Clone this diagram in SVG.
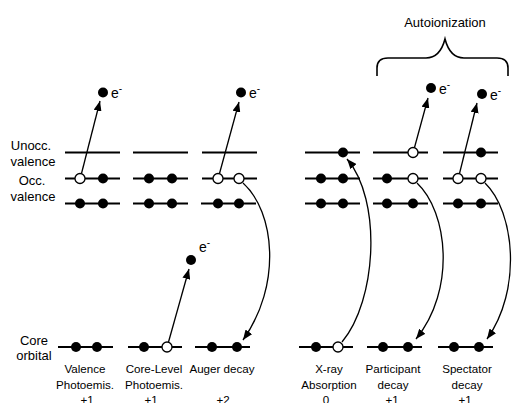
<svg xmlns="http://www.w3.org/2000/svg" width="512" height="403" viewBox="0 0 512 403">
<defs>
<style>
.lv{stroke:#000;stroke-width:2;fill:none}
.f{fill:#000}
.h{fill:#fff;stroke:#000;stroke-width:1.3}
.ar{stroke:#000;stroke-width:1.3;fill:none;marker-end:url(#ah)}
.t{font-family:"Liberation Sans",Arial,sans-serif;font-size:13px;fill:#000;text-anchor:middle}
.b{font-family:"Liberation Sans",Arial,sans-serif;font-size:11.6px;fill:#000;text-anchor:middle}
.e{font-family:"Liberation Sans",Arial,sans-serif;font-size:14px;fill:#000}
</style>
<marker id="ah" viewBox="0 0 10 8" refX="10" refY="4" markerWidth="10" markerHeight="8" markerUnits="userSpaceOnUse" orient="auto">
<path d="M0,0 L10,4 L0,8 Z" fill="#000"/>
</marker>
</defs>
<rect width="512" height="403" fill="#fff"/>

<g id="labels-left">
<text class="t" x="31" y="150">Unocc.</text>
<text class="t" x="33" y="166">valence</text>
<text class="t" x="32" y="185">Occ.</text>
<text class="t" x="33" y="201">valence</text>
<text class="t" x="34" y="345">Core</text>
<text class="t" x="34" y="360">orbital</text>
</g>

<g id="autoionization">
<text class="t" x="445" y="27">Autoionization</text>
<path d="M377,76 L377,68 Q377,58 388,58 L426,58 Q440,58 445,39 Q450,58 464,58 L497,58 Q508,58 508,68 L508,76" stroke="#000" stroke-width="1.6" fill="none"/>
</g>

<g id="valence-photoemission">
<line class="lv" x1="65" y1="152.5" x2="120" y2="152.5"/>
<line class="lv" x1="65" y1="178.5" x2="120" y2="178.5"/>
<line class="lv" x1="65" y1="203.5" x2="120" y2="203.5"/>
<circle class="h" cx="80" cy="178.5" r="5"/><circle class="f" cx="103" cy="178.5" r="5"/>
<circle class="f" cx="80" cy="203.5" r="5"/><circle class="f" cx="103" cy="203.5" r="5"/>
<line class="lv" x1="58" y1="347" x2="113" y2="347"/>
<circle class="f" cx="76" cy="347" r="5"/><circle class="f" cx="97" cy="347" r="5"/>
<circle class="f" cx="103" cy="92.5" r="5"/>
<text class="e" x="111" y="98">e<tspan dy="-6" font-size="10">-</tspan></text>
<text class="b" x="85" y="373">Valence</text>
<text class="b" x="85" y="389">Photoemis.</text>
<text class="b" x="87" y="404">+1</text>
</g>

<g id="core-level-photoemission">
<line class="lv" x1="133" y1="152.5" x2="188" y2="152.5"/>
<line class="lv" x1="133" y1="178.5" x2="188" y2="178.5"/>
<line class="lv" x1="133" y1="203.5" x2="188" y2="203.5"/>
<circle class="f" cx="149" cy="178.5" r="5"/><circle class="f" cx="172" cy="178.5" r="5"/>
<circle class="f" cx="149" cy="203.5" r="5"/><circle class="f" cx="172" cy="203.5" r="5"/>
<line class="lv" x1="128" y1="347" x2="182" y2="347"/>
<circle class="f" cx="144" cy="347" r="5"/><circle class="h" cx="167" cy="347" r="5"/>
<circle class="f" cx="191" cy="260" r="5"/>
<text class="e" x="199" y="252">e<tspan dy="-6" font-size="10">-</tspan></text>
<text class="b" x="154" y="373">Core-Level</text>
<text class="b" x="154" y="389">Photoemis.</text>
<text class="b" x="151" y="404">+1</text>
</g>

<g id="auger-decay">
<line class="lv" x1="202" y1="152.5" x2="257" y2="152.5"/>
<line class="lv" x1="202" y1="178.5" x2="257" y2="178.5"/>
<line class="lv" x1="201" y1="203.5" x2="256" y2="203.5"/>
<circle class="h" cx="218" cy="178.5" r="5"/><circle class="h" cx="239" cy="178.5" r="5"/>
<circle class="f" cx="218" cy="203.5" r="5"/><circle class="f" cx="239" cy="203.5" r="5"/>
<line class="lv" x1="195" y1="347" x2="250" y2="347"/>
<circle class="f" cx="212" cy="347" r="5"/><circle class="f" cx="237" cy="347" r="5"/>
<circle class="f" cx="241" cy="92.5" r="5"/>
<text class="e" x="249" y="98">e<tspan dy="-6" font-size="10">-</tspan></text>
<text class="b" x="222" y="373">Auger decay</text>
<text class="b" x="223" y="404">+2</text>
</g>

<g id="x-ray-absorption">
<line class="lv" x1="305" y1="152.5" x2="360" y2="152.5"/>
<line class="lv" x1="305" y1="178.5" x2="360" y2="178.5"/>
<line class="lv" x1="305" y1="203.5" x2="360" y2="203.5"/>
<circle class="f" cx="343" cy="152.5" r="5"/>
<circle class="f" cx="321" cy="178.5" r="5"/><circle class="f" cx="343" cy="178.5" r="5"/>
<circle class="f" cx="321" cy="203.5" r="5"/><circle class="f" cx="343" cy="203.5" r="5"/>
<line class="lv" x1="299" y1="347" x2="353" y2="347"/>
<circle class="f" cx="316" cy="347" r="5"/><circle class="h" cx="338" cy="347" r="5"/>
<text class="b" x="329" y="373">X-ray</text>
<text class="b" x="329" y="389">Absorption</text>
<text class="b" x="326" y="404">0</text>
</g>

<g id="participant-decay">
<line class="lv" x1="373" y1="152.5" x2="428" y2="152.5"/>
<line class="lv" x1="373" y1="178.5" x2="428" y2="178.5"/>
<line class="lv" x1="373" y1="203.5" x2="428" y2="203.5"/>
<circle class="h" cx="413" cy="152.5" r="5"/>
<circle class="f" cx="387" cy="178.5" r="5"/><circle class="h" cx="413" cy="178.5" r="5"/>
<circle class="f" cx="387" cy="203.5" r="5"/><circle class="f" cx="413" cy="203.5" r="5"/>
<line class="lv" x1="367" y1="347" x2="422" y2="347"/>
<circle class="f" cx="383" cy="347" r="5"/><circle class="f" cx="408" cy="347" r="5"/>
<circle class="f" cx="431" cy="88" r="5"/>
<text class="e" x="439" y="94">e<tspan dy="-6" font-size="10">-</tspan></text>
<text class="b" x="393" y="373">Participant</text>
<text class="b" x="393" y="389">decay</text>
<text class="b" x="392" y="404">+1</text>
</g>

<g id="spectator-decay">
<line class="lv" x1="443" y1="152.5" x2="498" y2="152.5"/>
<line class="lv" x1="443" y1="178.5" x2="498" y2="178.5"/>
<line class="lv" x1="443" y1="203.5" x2="498" y2="203.5"/>
<circle class="f" cx="481" cy="152.5" r="5"/>
<circle class="h" cx="458" cy="178.5" r="5"/><circle class="h" cx="481" cy="178.5" r="5"/>
<circle class="f" cx="458" cy="203.5" r="5"/><circle class="f" cx="481" cy="203.5" r="5"/>
<line class="lv" x1="438" y1="347" x2="493" y2="347"/>
<circle class="f" cx="454" cy="347" r="5"/><circle class="f" cx="479" cy="347" r="5"/>
<circle class="f" cx="482" cy="94" r="5"/>
<text class="e" x="490" y="100">e<tspan dy="-6" font-size="10">-</tspan></text>
<text class="b" x="467" y="373">Spectator</text>
<text class="b" x="467" y="389">decay</text>
<text class="b" x="465" y="404">+1</text>
</g>

<g id="connectors">
<line class="ar" x1="81.5" y1="173.5" x2="100" y2="101"/>
<line class="ar" x1="219.5" y1="173.5" x2="239" y2="102"/>
<line class="ar" x1="168.5" y1="342" x2="189" y2="269"/>
<line class="ar" x1="414.5" y1="147.5" x2="428" y2="98"/>
<line class="ar" x1="459.5" y1="173.5" x2="477" y2="103"/>
<path class="ar" d="M243,183 C275,212 282,285 243,340"/>
<path class="ar" d="M342,342 C377,300 382,200 347,159"/>
<path class="ar" d="M417,183 C448,212 456,290 416,339"/>
<path class="ar" d="M485,183 C515,212 522,290 487,339"/>
</g>
</svg>
